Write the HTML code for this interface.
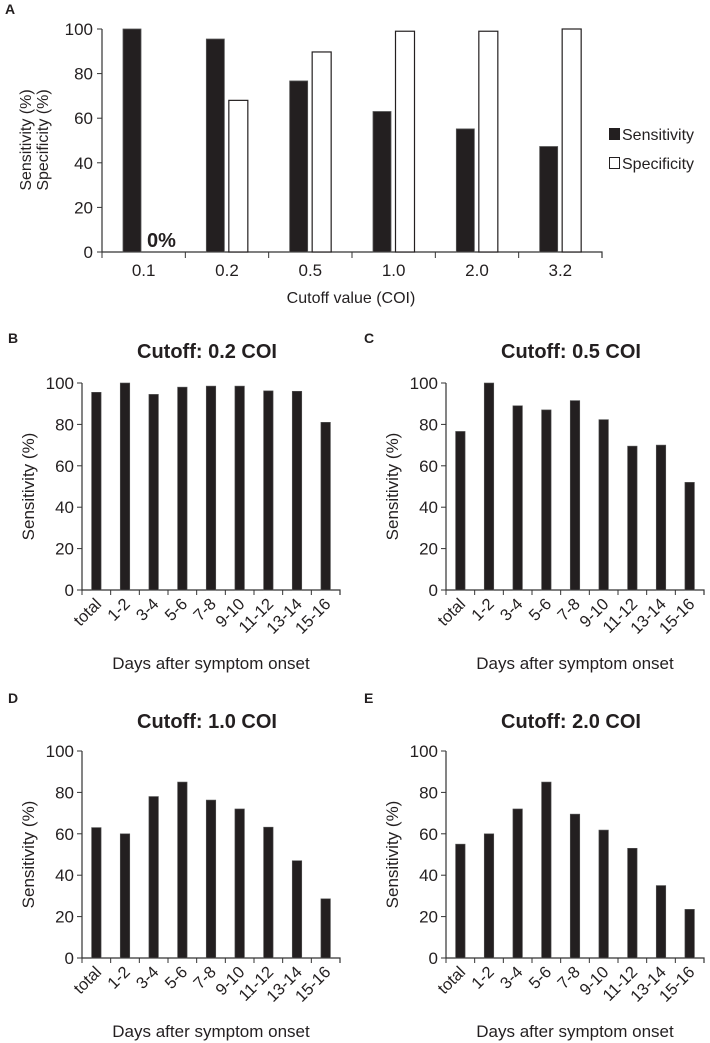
<!DOCTYPE html>
<html><head><meta charset="utf-8"><style>
body{margin:0;background:#fff;}
svg{display:block;font-family:"Liberation Sans",Arial,sans-serif;}
</style></head><body>
<svg id="fig" width="710" height="1043" viewBox="0 0 710 1043"></svg>
<script>
const aCategories=["0.1","0.2","0.5","1.0","2.0","3.2"];
const aSensitivity=[100,95.5,76.7,63,55.2,47.3];
const aSpecificity=[0,68,89.7,99,99,100];
const dayCategories=["total","1-2","3-4","5-6","7-8","9-10","11-12","13-14","15-16"];
const bValues=[95.5,100,94.5,98,98.5,98.5,96.2,96,81];
const cValues=[76.6,100,89,87,91.5,82.3,69.5,70,52];
const dValues=[63,60,78,85,76.3,72,63.2,47,28.6];
const eValues=[55,60,72,85,69.5,61.8,53,35,23.5];
const yTicks=[0,20,40,60,80,100];

const NS="http://www.w3.org/2000/svg";
const svg=document.getElementById('fig');
function el(tag,attrs,parent,text){const e=document.createElementNS(NS,tag);for(const k in attrs)e.setAttribute(k,attrs[k]);if(text!==undefined)e.textContent=text;(parent||svg).appendChild(e);return e;}
const INK="#231f20";

// Panel A
(function(){
  const g=el('g',{});
  
  
  const x0=102,x1=602,y0=252,yTop=29;
  const cw=(x1-x0)/aCategories.length;
  const ys=v=>y0-(v/100)*(y0-yTop);
  const t=el('text',{x:5,y:14,'font-size':14,'font-weight':'bold',fill:INK},g,'A');
  
  const ax=el('path',{d:`M${x0} ${yTop} V${y0} H${x1} V${y0+6}`,stroke:'#333',fill:'none','stroke-width':1.2},g);
  
  yTicks.forEach(v=>{
    el('line',{x1:x0-5,x2:x0,y1:ys(v),y2:ys(v),stroke:'#333'},g);
    const l=el('text',{x:x0-9,y:ys(v)+6,'font-size':17,'text-anchor':'end',fill:INK},g,v);
    
  });
  aCategories.forEach((c,i)=>{
    const tx=x0+cw*i;
    el('line',{x1:tx,x2:tx,y1:y0,y2:y0+6,stroke:'#333'},g);
    const l=el('text',{x:x0+cw*(i+0.5),y:y0+24,'font-size':17,'text-anchor':'middle',fill:INK},g,c);
    
    const bs=el('rect',{x:x0+cw*i+21,y:ys(aSensitivity[i]),width:18,height:y0-ys(aSensitivity[i]),fill:INK,stroke:'#555','stroke-width':0.8},g);
    
    if(aSpecificity[i]>0){
      const bp=el('rect',{x:x0+cw*i+43.5,y:ys(aSpecificity[i]),width:19,height:y0-ys(aSpecificity[i]),fill:'#fff',stroke:INK,'stroke-width':1.2},g);
      
    }
  });
  const z=el('text',{x:x0+45,y:y0-5,'font-size':20,'font-weight':'bold',fill:INK},g,'0%');
  
  const xt=el('text',{x:351,y:303,'font-size':16,'text-anchor':'middle',fill:INK},g,'Cutoff value (COI)');
  
  const yt=el('text',{transform:'translate(31,140) rotate(-90)','font-size':16,'text-anchor':'middle',fill:INK},g);
  
  el('tspan',{x:0,dy:0},yt,'Sensitivity (%)');
  el('tspan',{x:0,dy:17},yt,'Specificity (%)');
  const lg=el('g',{},g);
  
  el('rect',{x:609,y:128,width:11,height:12,fill:INK},lg);
  el('text',{x:622,y:140,'font-size':16,fill:INK},lg,'Sensitivity');
  el('rect',{x:609.5,y:157.5,width:10,height:11,fill:'#fff',stroke:INK},lg);
  el('text',{x:622,y:169,'font-size':16,fill:INK},lg,'Specificity');
})();

function dayPanel(letter,title,values,x0,x1,yTop,y0,labelY,titleY){
  const g=el('g',{});
  
  
  const cw=(x1-x0)/dayCategories.length;
  const ys=v=>y0-(v/100)*(y0-yTop);
  const lb=el('text',{x:x0-74+(letter==='C'||letter==='E'?-8:0),y:labelY,'font-size':14,'font-weight':'bold',fill:INK},g,letter);
  
  const tt=el('text',{x:(x0+x1)/2-4,y:titleY,'font-size':20,'font-weight':'bold','text-anchor':'middle',fill:INK},g,title);
  
  el('path',{d:`M${x0} ${yTop} V${y0} H${x1} V${y0+5}`,stroke:'#333',fill:'none','stroke-width':1.2},g);
  yTicks.forEach(v=>{
    el('line',{x1:x0-5,x2:x0,y1:ys(v),y2:ys(v),stroke:'#333'},g);
    const l=el('text',{x:x0-8,y:ys(v)+6,'font-size':17,'text-anchor':'end',fill:INK},g,v);
    
  });
  dayCategories.forEach((c,i)=>{
    el('line',{x1:x0+cw*i,x2:x0+cw*i,y1:y0,y2:y0+5,stroke:'#333'},g);
    const cx=x0+cw*(i+0.5);
    const b=el('rect',{x:cx-4.75,y:ys(values[i]),width:9.5,height:y0-ys(values[i]),fill:INK,stroke:'#555','stroke-width':0.6},g);
    
    const l=el('text',{transform:`translate(${cx+6},${y0+15}) rotate(-45)`,'font-size':16.5,'text-anchor':'end',fill:INK},g,c);
    
  });
  const xt=el('text',{x:(x0+x1)/2,y:y0+79,'font-size':17,'text-anchor':'middle',fill:INK},g,'Days after symptom onset');
  
  const yt=el('text',{transform:`translate(${x0-48},${(y0+yTop)/2}) rotate(-90)`,'font-size':17,'text-anchor':'middle',fill:INK},g,'Sensitivity (%)');
  
}
dayPanel('B','Cutoff: 0.2 COI',bValues,82,340,383,590,343,358);
dayPanel('C','Cutoff: 0.5 COI',cValues,446,704,383,590,343,358);
dayPanel('D','Cutoff: 1.0 COI',dValues,82,340,751,958,703,728);
dayPanel('E','Cutoff: 2.0 COI',eValues,446,704,751,958,703,728);
</script>
</body></html>
